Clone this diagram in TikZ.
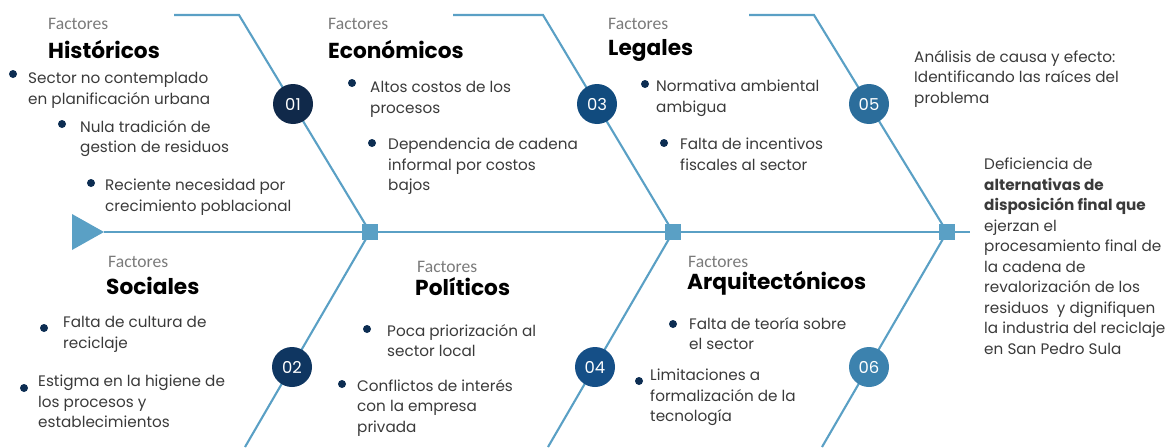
\documentclass[tikz,border=0pt]{standalone}
\usepackage{fontspec}
\setmainfont{Poppins}
\newfontfamily\lightfont{Carlito}
\usetikzlibrary{backgrounds}
\definecolor{bonec}{HTML}{5AA0C5}
\definecolor{navy}{HTML}{0C2D52}
\definecolor{txtc}{HTML}{3A3A3A}
\definecolor{grayc}{HTML}{7A7A7A}
\definecolor{cA}{HTML}{10294A}
\definecolor{cB}{HTML}{0F3661}
\definecolor{cC}{HTML}{114B7E}
\definecolor{cD}{HTML}{154F87}
\definecolor{cE}{HTML}{2B6D9B}
\definecolor{cF}{HTML}{3C82AE}
\tikzset{
  bone/.style={draw=bonec,line width=1.8pt},
  joint/.style={fill=bonec,minimum size=0.48cm,inner sep=0},
  num/.style={circle,fill=#1,minimum size=1.2cm,inner sep=0,text=white,font=\fontsize{14}{14}\selectfont},
  factor/.style={anchor=west,inner sep=0,text=grayc,font=\lightfont\fontsize{15}{15}\selectfont},
  title/.style={anchor=west,inner sep=0,text=black,font=\bfseries\fontsize{18.5}{18.5}\selectfont},
  item/.style={anchor=north west,inner sep=0,align=left,text=txtc,font=\fontsize{13}{17.5}\selectfont},
  dot/.style={circle,fill=navy,inner sep=0,minimum size=0.24cm},
}
\begin{document}
\begin{tikzpicture}[x=0.03cm,y=-0.03cm]
    \useasboundingbox (0,0) rectangle (1174,447);

    % espina
    \coordinate(tail)at(104,232);
    \coordinate(head)at(970,232);
    \node[joint](j1)at(370,232){};
    \node[joint](j2)at(673,232){};
    \node[joint](j3)at(947,232){};

    % espinas superiores e inferiores
    \coordinate(h1s)at(174,15);  \coordinate(h1k)at(239,15);
    \coordinate(h3s)at(453,15);  \coordinate(h3k)at(543,15);
    \coordinate(h5s)at(749,15);  \coordinate(h5k)at(814,15);
    \coordinate(h2e)at(245,447);
    \coordinate(h4e)at(548,447);
    \coordinate(h6e)at(822,447);

    \node[num=cA](n01)at(293,104){01};
    \node[num=cC](n03)at(597,104){03};
    \node[num=cE](n05)at(869,104){05};
    \node[num=cB](n02)at(292,367){02};
    \node[num=cD](n04)at(595,367){04};
    \node[num=cF](n06)at(869,367){06};

    \begin{pgfonlayer}{background}
      \draw[bone](tail)--(head);
      \draw[bone](h1s)--(h1k)--(j1.center);
      \draw[bone](h3s)--(h3k)--(j2.center);
      \draw[bone](h5s)--(h5k)--(j3.center);
      \draw[bone](j1.center)--(h2e);
      \draw[bone](j2.center)--(h4e);
      \draw[bone](j3.center)--(h6e);
    \end{pgfonlayer}
    \fill[bonec](72,214)--(tail)--(72,250)--cycle;

    % Historicos
    \node[factor](histF)at(48,24){Factores};
    \node[title](histT)at(48,50){Históricos};
    \node[dot](hd1)at(13,74){};
    \node[item](hi1)at(28,72){Sector no contemplado\\en planificación urbana};
    \node[dot](hd2)at(62,124){};
    \node[item](hi2)at(80,120){Nula tradición de\\gestion de residuos};
    \node[dot](hd3)at(91,183){};
    \node[item](hi3)at(105,179){Reciente necesidad por\\crecimiento poblacional};

    % Economicos
    \node[factor](ecoF)at(328,24){Factores};
    \node[title](ecoT)at(328,50){Económicos};
    \node[dot](ed1)at(352,83){};
    \node[item](ei1)at(370,81){Altos costos de los\\procesos};
    \node[dot](ed2)at(372,143){};
    \node[item](ei2)at(388,138){Dependencia de cadena\\informal por costos\\bajos};

    % Legales
    \node[factor](legF)at(608,24){Factores};
    \node[title](legT)at(608,50){Legales};
    \node[dot](ld1)at(645,84){};
    \node[item](li1)at(656,80){Normativa ambiental\\ambigua};
    \node[dot](ld2)at(664,143){};
    \node[item](li2)at(680,138){Falta de incentivos\\fiscales al sector};

    % Sociales
    \node[factor](socF)at(108,262){Factores};
    \node[title](socT)at(106,286){Sociales};
    \node[dot](sd1)at(44,328){};
    \node[item](si1)at(63,316){Falta de cultura de\\reciclaje};
    \node[dot](sd2)at(24,388){};
    \node[item](si2)at(38,375){Estigma en la higiene de\\los procesos y\\establecimientos};

    % Politicos
    \node[factor](polF)at(417,267){Factores};
    \node[title](polT)at(415,287){Políticos};
    \node[dot](pd1)at(367,329){};
    \node[item](pi1)at(387,324){Poca priorización al\\sector local};
    \node[dot](pd2)at(342,384){};
    \node[item](pi2)at(357,379){Conflictos de interés\\con la empresa\\privada};

    % Arquitectonicos
    \node[factor](arqF)at(688,262){Factores};
    \node[title](arqT)at(687,283){Arquitectónicos};
    \node[dot](ad1)at(673,324){};
    \node[item](ai1)at(689,317){Falta de teoría sobre\\el sector};
    \node[dot](ad2)at(639,381){};
    \node[item](ai2)at(650,369){Limitaciones a\\formalización de la\\tecnología};

    % textos de la derecha
    \node[item](intro)at(914,50){Análisis de causa y efecto:\\Identificando las raíces del\\problema};
    \node[item](efecto)at(984,158){Deficiencia de\\\textbf{alternativas de}\\\textbf{disposición final que}\\ejerzan el\\procesamiento final de\\la cadena de\\revalorización de los\\residuos\ \ y dignifiquen\\la industria del reciclaje\\en San Pedro Sula};
\end{tikzpicture}
\end{document}
